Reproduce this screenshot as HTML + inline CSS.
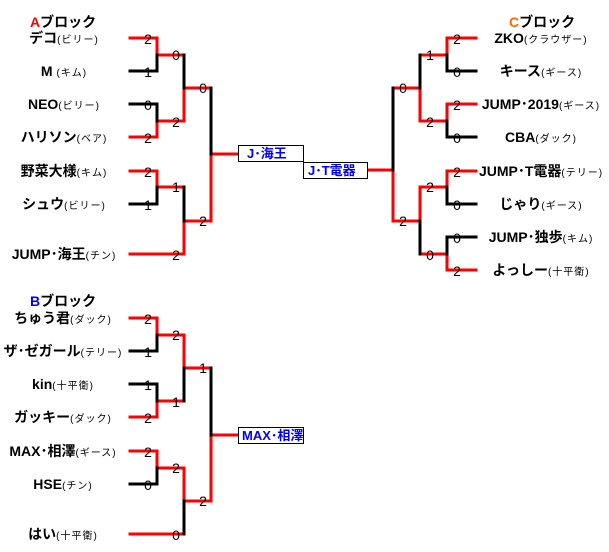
<!DOCTYPE html>
<html><head><meta charset="utf-8"><style>
html,body{margin:0;padding:0;background:#fff;width:609px;height:552px;overflow:hidden}
svg{display:block}
.n{font-family:"Liberation Sans","Noto Sans CJK JP",sans-serif;font-weight:bold;font-size:14px;fill:#000}
.p{font-size:10px;font-weight:normal;letter-spacing:1px}
.s{font-family:"Liberation Sans",sans-serif;font-size:14px;fill:#000}
.b{font-family:"Liberation Sans","Noto Sans CJK JP",sans-serif;font-weight:bold;font-size:13px;fill:#00f}
.t{font-family:"Liberation Sans","Noto Sans CJK JP",sans-serif;font-weight:bold;font-size:14px;fill:#000}
</style></head><body>
<svg width="609" height="552" xmlns="http://www.w3.org/2000/svg">
<g fill="none" stroke-width="3" stroke-linecap="square">
<path stroke="red" d="M130 38H157V55H184M157 121H184M130 137H157V121M184 88H211M211 154H238M130 171H157V187H184M130 254H184V221H211V154M184 88V121"/>
<path stroke="#000" d="M130 71H157V55M130 104H157V121M184 55V88M157 187V204H130M184 187V221M211 88V154"/>
<path stroke="red" d="M130 318H157V335H184V368H211M157 401H184M130 417H157V401M130 451H157V468H184V501H211V435H238M130 534H184"/>
<path stroke="#000" d="M130 351H157V335M130 384H157V401M184 368V401M157 468V484H130M184 501V534M211 368V435"/>
<path stroke="red" d="M476 38H447V55H420M420 88V121H447M476 104H447V121M393 88H420M367 170H393V221H420V187H447V171H476M420 254H447V270H476"/>
<path stroke="#000" d="M447 55V71H476M447 121V137H476M420 55V88M393 88V170M447 187V204H476M420 221V254M447 254V237H476"/>
</g>
<rect x="238.5" y="145.5" width="65" height="16" fill="#fff" stroke="#000"/>
<rect x="303.5" y="162.5" width="64" height="16" fill="#fff" stroke="#000"/>
<rect x="238.5" y="427.5" width="65" height="16" fill="#fff" stroke="#000"/>
<text class="b" x="247" y="158">J･海王</text>
<text class="b" x="308" y="175">J･T電器</text>
<text class="b" x="242" y="440">MAX･相澤</text>

<text class="t" x="30" y="27"><tspan fill="red">A</tspan>ブロック</text>
<text class="t" x="30" y="306"><tspan fill="#00f">B</tspan>ブロック</text>
<text class="t" x="509" y="27"><tspan fill="#f60">C</tspan>ブロック</text>

<g class="n" text-anchor="middle">
<text x="64" y="43">デコ<tspan class="p">(ビリー)</tspan></text>
<text x="64" y="76">M <tspan class="p">(キム)</tspan></text>
<text x="64" y="109">NEO<tspan class="p">(ビリー)</tspan></text>
<text x="64" y="142">ハリソン<tspan class="p">(ベア)</tspan></text>
<text x="64" y="176">野菜大様<tspan class="p">(キム)</tspan></text>
<text x="64" y="209">シュウ<tspan class="p">(ビリー)</tspan></text>
<text x="64" y="259">JUMP･海王<tspan class="p">(チン)</tspan></text>
<text x="63" y="323">ちゅう君<tspan class="p">(ダック)</tspan></text>
<text x="63" y="356">ザ･ゼガール<tspan class="p">(テリー)</tspan></text>
<text x="63" y="389">kin<tspan class="p">(十平衛)</tspan></text>
<text x="63" y="422">ガッキー<tspan class="p">(ダック)</tspan></text>
<text x="63" y="456">MAX･相澤<tspan class="p">(ギース)</tspan></text>
<text x="63" y="489">HSE<tspan class="p">(チン)</tspan></text>
<text x="63" y="539">はい<tspan class="p">(十平衛)</tspan></text>
<text x="541" y="43">ZKO<tspan class="p">(クラウザー)</tspan></text>
<text x="541" y="76">キース<tspan class="p">(ギース)</tspan></text>
<text x="541" y="109">JUMP･2019<tspan class="p">(ギース)</tspan></text>
<text x="541" y="142">CBA<tspan class="p">(ダック)</tspan></text>
<text x="541" y="176">JUMP･T電器<tspan class="p">(テリー)</tspan></text>
<text x="541" y="209">じゃり<tspan class="p">(ギース)</tspan></text>
<text x="541" y="242">JUMP･独歩<tspan class="p">(キム)</tspan></text>
<text x="541" y="275">よっしー<tspan class="p">(十平衛)</tspan></text>
</g>

<g class="s" text-anchor="middle">
<text x="148" y="44">2</text><text x="148" y="77">1</text><text x="148" y="110">0</text><text x="148" y="143">2</text>
<text x="148" y="177">2</text><text x="148" y="210">1</text><text x="176" y="260">2</text>
<text x="176" y="60">0</text><text x="176" y="127">2</text><text x="176" y="192">1</text>
<text x="203" y="93">0</text><text x="203" y="226">2</text>
<text x="148" y="324">2</text><text x="148" y="357">1</text><text x="148" y="390">1</text><text x="148" y="423">2</text>
<text x="148" y="457">2</text><text x="148" y="490">0</text><text x="176" y="540">0</text>
<text x="176" y="340">2</text><text x="176" y="407">1</text><text x="176" y="473">2</text>
<text x="203" y="373">1</text><text x="203" y="506">2</text>
<text x="457" y="44">2</text><text x="457" y="77">0</text><text x="457" y="110">2</text><text x="457" y="143">0</text>
<text x="457" y="177">2</text><text x="457" y="210">0</text><text x="457" y="243">0</text><text x="457" y="276">2</text>
<text x="430" y="60">1</text><text x="430" y="127">2</text><text x="430" y="192">2</text><text x="430" y="260">0</text>
<text x="403" y="93">0</text><text x="403" y="226">2</text>
</g>
</svg>
</body></html>
